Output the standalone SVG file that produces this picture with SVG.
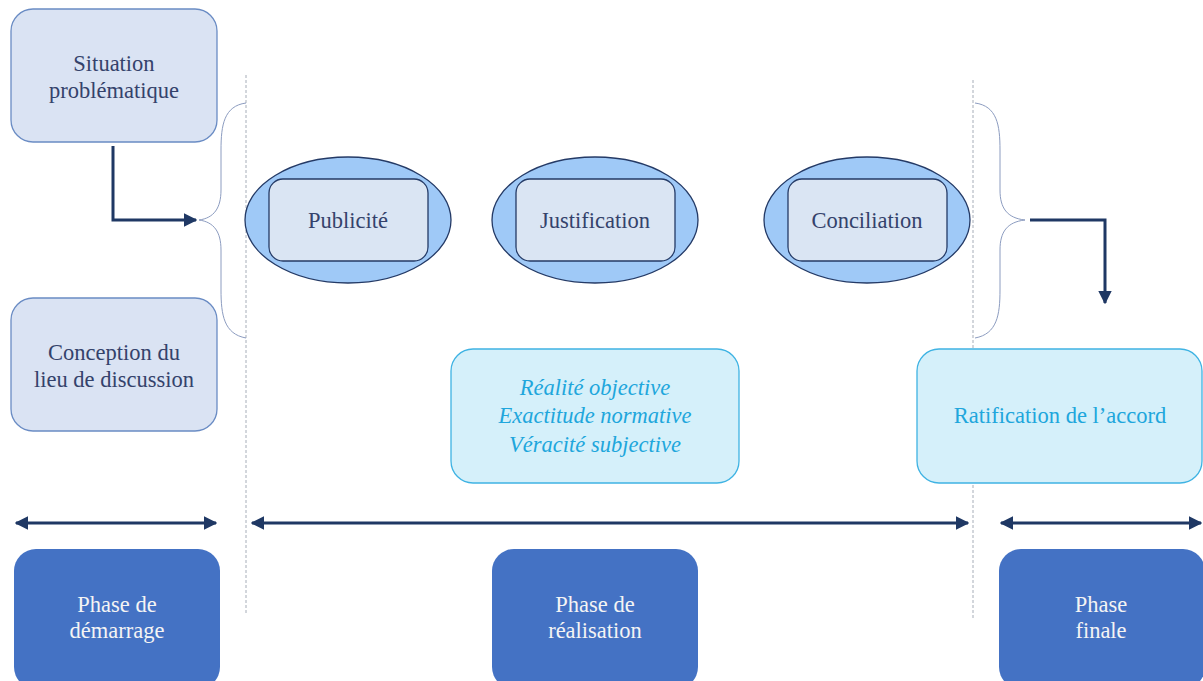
<svg xmlns="http://www.w3.org/2000/svg" width="1203" height="681" viewBox="0 0 1203 681">
<style>
text{font-family:"Liberation Serif","Times New Roman",serif;font-size:22.5px;text-anchor:middle}
.lb{fill:#dae3f3;stroke:#6a8cc4;stroke-width:1.3}
.ell{fill:#9fc9f7;stroke:#243a66;stroke-width:1.3}
.inr{fill:#dae5f3;stroke:#243a66;stroke-width:1.3}
.cy{fill:#d5f0fa;stroke:#3fb3e3;stroke-width:1.3}
.ph{fill:#4472c4}
.dk{fill:#34426b}
.ct{fill:#20a6dc;font-style:italic}
.cn{fill:#20a6dc}
.wt{fill:#f4f4f4}
.dash{stroke:#a6adb8;stroke-width:1;stroke-dasharray:3 2;fill:none}
.brace{stroke:#8c9cc0;stroke-width:1;fill:none}
.arr{stroke:#1f3864;stroke-width:3;fill:none}
</style>
<defs>
<marker id="ah" viewBox="0 0 10 10" refX="9" refY="5" markerWidth="4.5" markerHeight="4.5" orient="auto-start-reverse" markerUnits="strokeWidth">
<path d="M0,0 L10,5 L0,10 z" fill="#1f3864"/>
</marker>
</defs>
<g id="guides">
<line class="dash" x1="246" y1="75" x2="246" y2="615"/>
<line class="dash" x1="973" y1="80" x2="973" y2="618"/>
<path class="brace" d="M246,103 C224,106 221,125 221,150 L221,190 C221,208 214,218 199,220 C214,222 221,232 221,250 L221,290 C221,315 224,334 246,338"/>
<path class="brace" d="M975,103 C997,106 1000,125 1000,150 L1000,190 C1000,208 1007,218 1025,220 C1007,222 1000,232 1000,250 L1000,290 C1000,315 997,334 975,338"/>
</g>
<g id="situation">
<rect class="lb" x="11" y="9" width="206" height="133" rx="22"/>
<text class="dk" x="114" y="71">Situation</text>
<text class="dk" x="114" y="98">problématique</text>
</g>
<g id="conception">
<rect class="lb" x="11" y="298" width="206" height="133" rx="22"/>
<text class="dk" x="114" y="360">Conception du</text>
<text class="dk" x="114" y="387">lieu de discussion</text>
</g>
<g id="publicite">
<ellipse class="ell" cx="348" cy="220" rx="103" ry="63"/>
<rect class="inr" x="269" y="179" width="159" height="82" rx="14"/>
<text class="dk" x="348" y="228">Publicité</text>
</g>
<g id="justification">
<ellipse class="ell" cx="595" cy="220" rx="103" ry="63"/>
<rect class="inr" x="516" y="179" width="159" height="82" rx="14"/>
<text class="dk" x="595" y="228">Justification</text>
</g>
<g id="conciliation">
<ellipse class="ell" cx="867" cy="220" rx="103" ry="63"/>
<rect class="inr" x="788" y="179" width="159" height="82" rx="14"/>
<text class="dk" x="867" y="228">Conciliation</text>
</g>
<g id="criteres">
<rect class="cy" x="451" y="349" width="288" height="134" rx="22"/>
<text class="ct" x="595" y="395">Réalité objective</text>
<text class="ct" x="595" y="423">Exactitude normative</text>
<text class="ct" x="595" y="452">Véracité subjective</text>
</g>
<g id="ratification">
<rect class="cy" x="917" y="349" width="285" height="134" rx="22"/>
<text class="cn" x="1060" y="423">Ratification de l’accord</text>
</g>
<g id="phase-demarrage">
<rect class="ph" x="14" y="549" width="206" height="140" rx="22"/>
<text class="wt" x="117" y="612">Phase de</text>
<text class="wt" x="117" y="638">démarrage</text>
</g>
<g id="phase-realisation">
<rect class="ph" x="492" y="549" width="206" height="140" rx="22"/>
<text class="wt" x="595" y="612">Phase de</text>
<text class="wt" x="595" y="638">réalisation</text>
</g>
<g id="phase-finale">
<rect class="ph" x="999" y="549" width="206" height="140" rx="22"/>
<text class="wt" x="1101" y="612">Phase</text>
<text class="wt" x="1101" y="638">finale</text>
</g>
<g id="connectors">
<path class="arr" d="M113,146 L113,220 L196,220" marker-end="url(#ah)"/>
<path class="arr" d="M1030,220 L1105,220 L1105,303" marker-end="url(#ah)"/>
<line class="arr" x1="16" y1="523" x2="216" y2="523" marker-start="url(#ah)" marker-end="url(#ah)"/>
<line class="arr" x1="252" y1="523" x2="968" y2="523" marker-start="url(#ah)" marker-end="url(#ah)"/>
<line class="arr" x1="1001" y1="523" x2="1201" y2="523" marker-start="url(#ah)" marker-end="url(#ah)"/>
</g>
</svg>
